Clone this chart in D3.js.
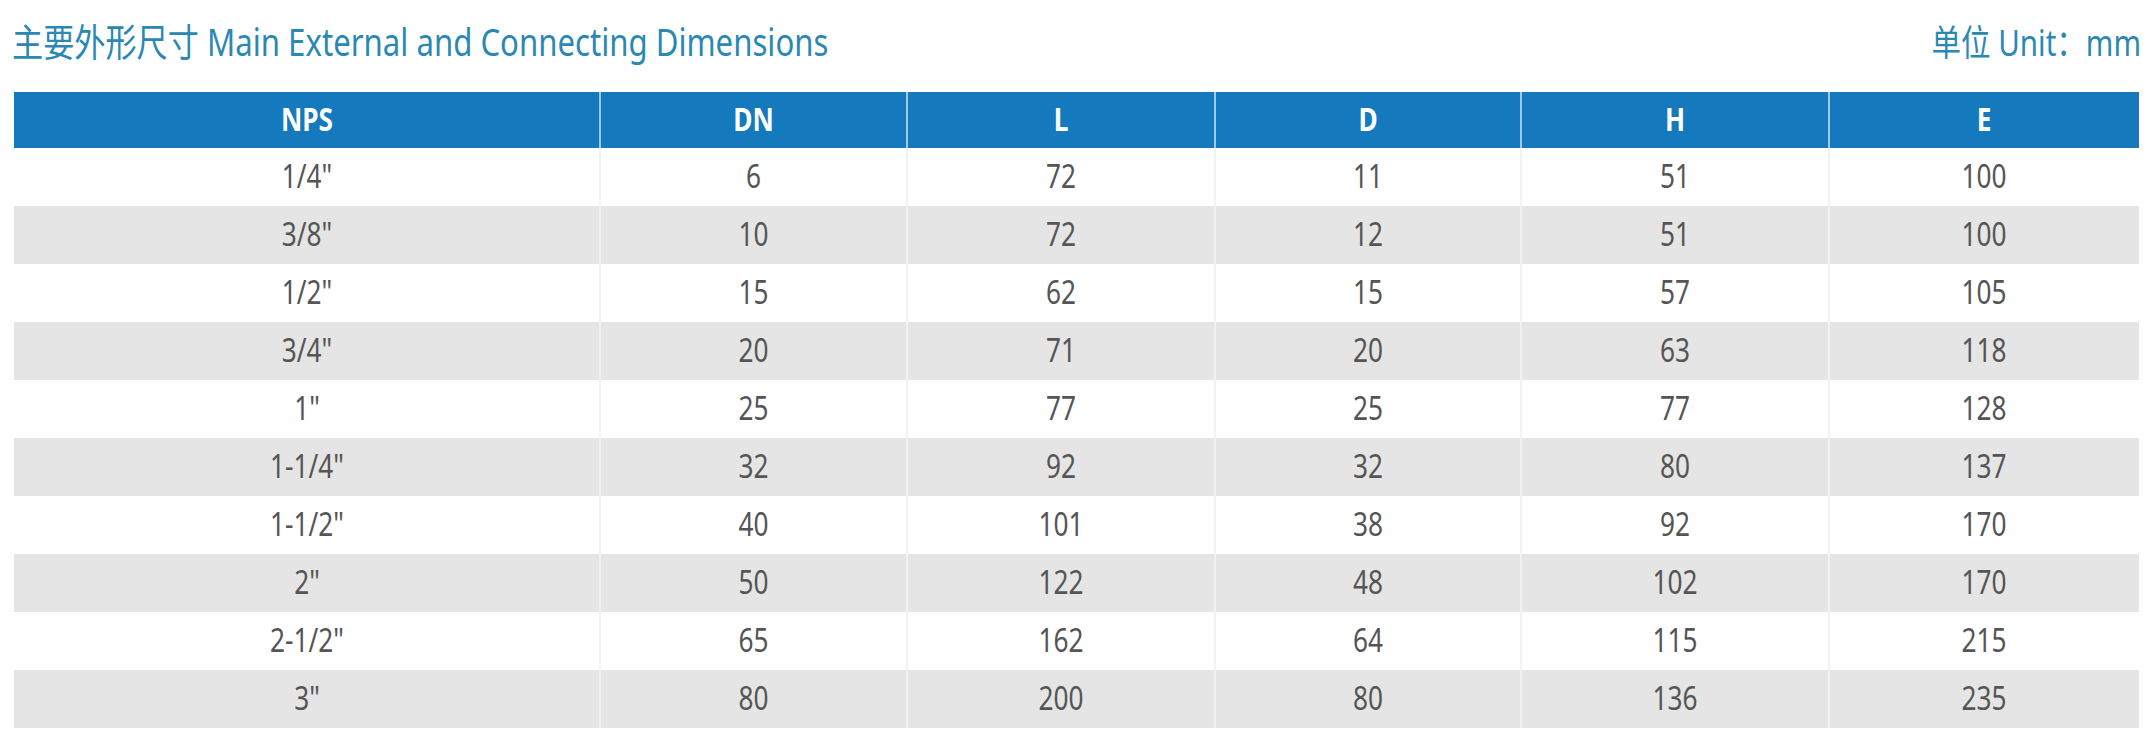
<!DOCTYPE html>
<html><head><meta charset="utf-8">
<script src="https://cdn.jsdelivr.net/npm/d3@7"></script>
<style>body{margin:0;background:#fff}text{font-family:"Noto Sans","Noto Sans CJK SC",sans-serif}</style>
</head><body><svg id="chart" width="2155" height="741"></svg>
<script>
const columns = ["NPS", "DN", "L", "D", "H", "E"]
const nps = ['1/4"', '3/8"', '1/2"', '3/4"', '1"', '1-1/4"', '1-1/2"', '2"', '2-1/2"', '3"']
const dn = [6, 10, 15, 20, 25, 32, 40, 50, 65, 80]
const lLen = [72, 72, 62, 71, 77, 92, 101, 122, 162, 200]
const dDia = [11, 12, 15, 20, 25, 32, 38, 48, 64, 80]
const hHeight = [51, 51, 57, 63, 77, 80, 92, 102, 115, 136]
const eLen = [100, 100, 105, 118, 128, 137, 170, 170, 215, 235]

const rows = nps.map((n, i) => [n, dn[i], lLen[i], dDia[i], hHeight[i], eLen[i]])
const svg = d3.select("#chart")
const tLeft = 14, tRight = 2139, tTop = 92, headH = 56, rowH = 58

// column edges: first column wider
const edges = [tLeft, 600, 907, 1215, 1521, 1829, tRight]
const x0 = i => edges[i], xw = i => edges[i + 1] - edges[i]
const y = d3.scaleBand().domain(d3.range(rows.length)).range([tTop + headH, tTop + headH + rowH * rows.length])

const cond = (sel, cx, cy) => sel.attr("transform", `translate(${cx},${cy}) scale(0.82,1)`)

// title
cond(svg.append("text"), 12, 56).attr("fill", "#2a88b3").attr("font-size", 38).text("主要外形尺寸 Main External and Connecting Dimensions")
cond(svg.append("text"), 2141, 56).attr("fill", "#2a88b3").attr("font-size", 36).attr("text-anchor", "end").text("单位 Unit：mm")

// header
svg.append("rect").attr("x", tLeft).attr("y", tTop).attr("width", tRight - tLeft).attr("height", headH).attr("fill", "#1479bd")
columns.forEach((c, i) => {
  if (i > 0) svg.append("line").attr("x1", x0(i)).attr("x2", x0(i)).attr("y1", tTop).attr("y2", tTop + headH).attr("stroke", "#cfe4f2").attr("stroke-width", 1.5)
  cond(svg.append("text"), x0(i) + xw(i) / 2, tTop + headH / 2 + 11).attr("text-anchor", "middle").attr("fill", "#fff")
    .attr("font-size", 32).attr("font-weight", "bold").text(c)
})

// body
const g = svg.append("g")
rows.forEach((r, ri) => {
  if (ri % 2 === 1) g.append("rect").attr("x", tLeft).attr("y", y(ri)).attr("width", tRight - tLeft).attr("height", rowH).attr("fill", "#e5e5e5")
  r.forEach((v, ci) => {
    if (ci > 0) g.append("line").attr("x1", x0(ci)).attr("x2", x0(ci)).attr("y1", y(ri)).attr("y2", y(ri) + rowH).attr("stroke", ri % 2 ? "#f4f4f4" : "#eeeeee").attr("stroke-width", 1.5)
    cond(g.append("text"), x0(ci) + xw(ci) / 2, y(ri) + rowH / 2 + 11).attr("text-anchor", "middle").attr("fill", "#555")
      .attr("font-size", 32).text(v)
  })
})
</script></body></html>
